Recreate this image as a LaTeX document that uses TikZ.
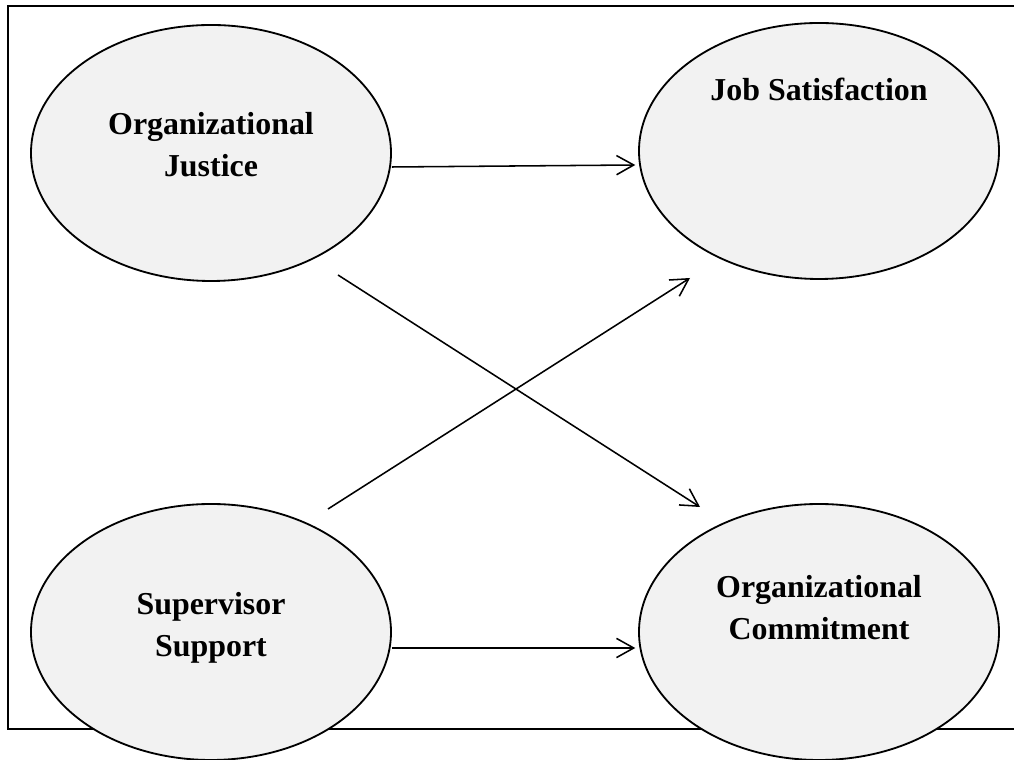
\documentclass[tikz,border=0pt]{standalone}
\usepackage{fontspec}
\setmainfont{Liberation Serif}
\usetikzlibrary{arrows.meta,shapes.geometric}
\definecolor{bubblegray}{HTML}{F2F2F2}

\begin{document}
\begin{tikzpicture}[
	bubble/.style={ellipse,draw=black,line width=1.3pt,fill=bubblegray,minimum width=9cm,minimum height=6.4cm,inner sep=0pt},
	caption/.style={align=center,font=\fontsize{22.7pt}{29.8pt}\selectfont\bfseries},
	link/.style={black,line width=1.1pt,-{Straight Barb[length=4.3mm,width=4.8mm,line width=1.1pt]}}]
\useasboundingbox (0,0) rectangle (25.35,19);
\draw[black,line width=1.7pt] (25.35,18.85) -- (0.2,18.85) -- (0.2,0.775) -- (25.35,0.775);

\node[bubble] (OJ) at (5.275,15.175){};
\node[bubble] (JS) at (20.475,15.225){};
\node[bubble] (SS) at (5.275,3.2){};
\node[bubble] (OC) at (20.475,3.2){};

\node[caption] (OJt) at ([yshift=0.2cm]OJ.center){Organizational\\Justice};
\node[caption] (JSt) at ([yshift=1.55cm]JS.center){Job Satisfaction};
\node[caption] (SSt) at ([yshift=0.11cm]SS.center){Supervisor\\Support};
\node[caption] (OCt) at ([yshift=0.6cm]OC.center){Organizational\\Commitment};

\coordinate (OJtail) at ([shift={(3.175,-3.05)}]OJ.center);
\coordinate (OChead) at ([shift={(-2.975,3.125)}]OC.center);
\coordinate (SStail) at ([shift={(2.925,3.075)}]SS.center);
\coordinate (JShead) at ([shift={(-3.225,-3.175)}]JS.center);

\draw[link] ([yshift=-0.35cm]OJ.east) -- ([yshift=-0.35cm,xshift=-2pt]JS.west);
\draw[link] ([yshift=-0.4cm]SS.east) -- ([yshift=-0.4cm,xshift=-2pt]OC.west);
\draw[link] (OJtail) -- (OChead);
\draw[link] (SStail) -- (JShead);

\end{tikzpicture}
\end{document}
